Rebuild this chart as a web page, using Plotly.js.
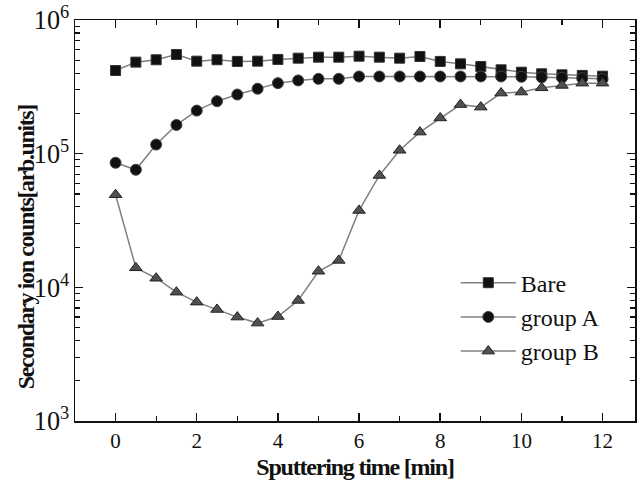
<!DOCTYPE html>
<html>
<head>
<meta charset="utf-8">
<script src="https://cdn.plot.ly/plotly-3.0.1.min.js"></script>
<style>
html,body{margin:0;padding:0;background:#fff;}
#chart{width:639px;height:490px;}
.xtitle{letter-spacing:-1.2px;}
.annotation-text{letter-spacing:-1.4px;}
</style>
</head>
<body>
<div id="chart"></div>
<script>
const time = [0,0.5,1,1.5,2,2.5,3,3.5,4,4.5,5,5.5,6,6.5,7,7.5,8,8.5,9,9.5,10,10.5,11,11.5,12];
const bare = [419000,484000,504000,552000,492000,504000,490000,492000,507000,518000,527000,527000,536000,527000,518000,533000,490000,470000,449000,424000,407000,396000,389000,385000,380000];
const groupA = [85500,75800,117000,164000,210000,247000,277000,306000,337000,353000,363000,363000,378000,378000,378000,378000,378000,378000,378000,378000,376000,373000,370000,367000,363000];
const groupB = [49300,14000,11700,9200,7750,6830,5990,5400,6050,7980,13200,15900,37600,68700,106000,145000,185000,233000,223000,284000,289000,311000,324000,337000,337000];
const seriesNames = ['Bare','group A','group B'];
const xTitle = 'Sputtering time [min]';
const yTitle = 'Secondary ion counts[arb.units]';

const lineStyle = {color:'#808080', width:1.5};
const traces = [
  {x:time, y:bare, name:seriesNames[0], mode:'lines+markers', line:lineStyle,
   marker:{symbol:'square', size:10, color:'#111', line:{color:'#333', width:1}}},
  {x:time, y:groupA, name:seriesNames[1], mode:'lines+markers', line:lineStyle,
   marker:{symbol:'circle', size:11, color:'#111', line:{color:'#444', width:1}}},
  {x:time, y:groupB, name:seriesNames[2], mode:'lines+markers', line:lineStyle,
   marker:{symbol:'triangle-up', size:11, color:'#505050', line:{color:'#222', width:1}}}
];

const serif = 'Liberation Serif';
const layout = {
  width:639, height:490,
  margin:{l:75, r:4, t:20, b:69},
  paper_bgcolor:'#fff', plot_bgcolor:'#fff',
  showlegend:true,
  legend:{x:0.68, y:0.40, xanchor:'left', yanchor:'top', bgcolor:'rgba(0,0,0,0)',
          font:{family:serif, size:24, color:'#111'}, itemwidth:55, tracegroupgap:0},
  xaxis:{
    range:[-1, 12.8], dtick:2, tick0:0,
    showline:true, linecolor:'#111', linewidth:1.5, mirror:'ticks',
    ticks:'inside', ticklen:8, tickwidth:1.5, tickcolor:'#111',
    minor:{ticks:'inside', ticklen:5, tickwidth:1.2, tickcolor:'#111', dtick:1},
    showgrid:false, zeroline:false,
    tickfont:{family:serif, size:21, color:'#111'},
    title:{text:'<b>' + xTitle + '</b>', font:{family:serif, size:24, color:'#111'}, standoff:6}
  },
  yaxis:{
    type:'log', range:[3,6], dtick:1, exponentformat:'power',
    showline:true, linecolor:'#111', linewidth:1.5, mirror:'ticks',
    ticks:'inside', ticklen:8, tickwidth:1.5, tickcolor:'#111',
    minor:{ticks:'inside', ticklen:5, tickwidth:1.2, tickcolor:'#111', dtick:'D1'},
    showgrid:false, zeroline:false,
    tickfont:{family:serif, size:21, color:'#111'}
  },
  annotations:[{
    text:'<b>' + yTitle + '</b>', textangle:-90, showarrow:false,
    xref:'paper', yref:'paper', x:-0.086, y:0.433, xanchor:'center', yanchor:'middle',
    font:{family:serif, size:24, color:'#111'}
  }]
};
Plotly.newPlot('chart', traces, layout, {displayModeBar:false, staticPlot:true});
</script>
</body>
</html>
